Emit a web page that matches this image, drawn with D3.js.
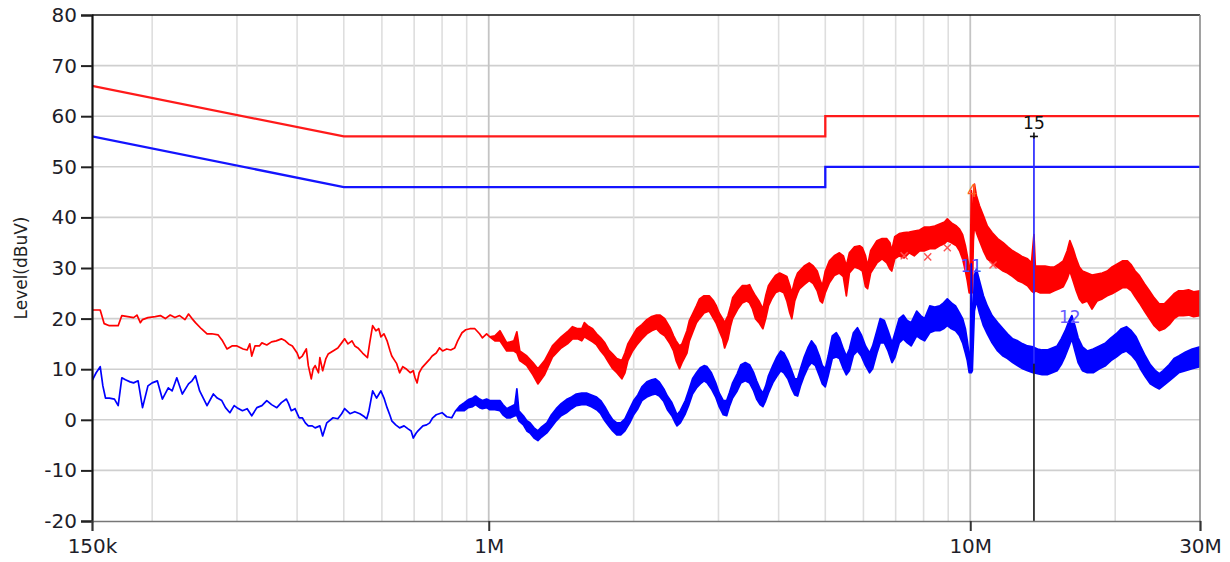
<!DOCTYPE html>
<html>
<head>
<meta charset="utf-8">
<script src="https://cdn.jsdelivr.net/npm/d3@7"></script>
<style>
  html, body { margin: 0; padding: 0; background: #fff; }
  svg { display: block; font-family: "DejaVu Sans", Verdana, sans-serif; }
</style>
</head>
<body>
<svg id="chart" width="1230" height="562"></svg>
<script>
// ---- Data (frequency in MHz, level in dBuV) ----
const levelTicks = [-20, -10, 0, 10, 20, 30, 40, 50, 60, 70, 80];
const freqTicks = [0.15, 1, 10, 30];
const freqTickLabels = ["150k", "1M", "10M", "30M"];
const gridFreqMinor = [0.2, 0.3, 0.4, 0.5, 0.6, 0.7, 0.8, 0.9, 2, 3, 4, 5, 6, 7, 8, 9, 20];
const gridFreqMajor = [1, 10];

// Limit lines: quasi-peak (red) and average (blue)
const qpLimit = [[0.15, 66], [0.5, 56], [5, 56], [5, 60], [30, 60]];
const avLimit = [[0.15, 56], [0.5, 46], [5, 46], [5, 50], [30, 50]];

// Peak trace, rows are [freq, upper, lower]; a missing lower value means a single reading
const peakTrace = [
  [0.150,21.7],[0.156,21.7],[0.159,19.0],[0.163,18.6],[0.170,18.6],[0.173,20.6],[0.178,20.4],[0.183,20.2],
  [0.186,20.7],[0.189,19.2],[0.191,19.8],[0.196,20.2],[0.203,20.4],[0.208,20.6],[0.213,20.0],[0.218,20.7],
  [0.223,20.2],[0.228,20.6],[0.234,19.8],[0.238,20.9],[0.242,20.0],[0.246,19.2],[0.253,18.0],[0.260,17.0],
  [0.266,17.0],[0.274,16.8],[0.280,15.6],[0.286,14.0],[0.293,14.6],[0.300,14.6],[0.309,14.0],[0.315,13.8],
  [0.319,15.0],[0.322,12.6],[0.327,14.6],[0.334,14.6],[0.338,15.2],[0.346,14.8],[0.354,15.4],[0.362,15.6],
  [0.371,16.0],[0.378,15.6],[0.384,15.0],[0.391,14.6],[0.400,13.2],[0.404,12.1],[0.410,12.6],[0.418,14.0],
  [0.422,10.7],[0.428,8.1],[0.432,10.1],[0.436,10.7],[0.443,9.3],[0.446,12.3],[0.452,9.7],[0.459,12.1],
  [0.464,13.0],[0.475,13.6],[0.486,14.2],[0.495,15.2],[0.502,16.0],[0.510,15.0],[0.520,15.6],[0.527,14.6],
  [0.535,14.2],[0.547,13.2],[0.560,12.3],[0.566,15.2],[0.574,18.6],[0.583,17.6],[0.591,18.0],[0.597,16.4],
  [0.606,17.0],[0.615,15.6],[0.624,13.6],[0.629,12.6],[0.638,11.7],[0.644,11.1],[0.653,9.3],[0.663,10.5],
  [0.673,10.1],[0.687,9.3],[0.697,9.7],[0.703,8.3],[0.710,7.3],[0.717,9.3],[0.727,10.3],[0.743,11.3],
  [0.756,12.1],[0.763,12.6],[0.778,13.2],[0.790,14.2],[0.802,13.6],[0.818,14.0],[0.834,13.8],[0.850,14.2],
  [0.862,15.6],[0.880,17.2],[0.896,17.8],[0.914,18.0],[0.936,18.0],[0.957,17.0],[0.970,16.2],[0.990,17.0],
  [1.005,16.4],[1.03,16.6,15.6],
  [1.055,17.6,15.6],[1.09,15.2,13.6],[1.128,15.6,13.6],[1.144,17.4,13.2],[1.16,13.6,11.7],[1.20,12.6,10.7],
  [1.235,11.3,8.9],[1.265,10.1,7.1],[1.306,11.7,8.9],[1.356,14.6,12.4],[1.414,16.4,14.2],[1.457,17.4,15.0],
  [1.493,18.4,16.0],[1.53,18.0,16.0],[1.56,18.0,15.6],[1.58,19.2,16.4],[1.604,18.6,16.0],[1.643,18.0,15.4],
  [1.675,17.0,14.8],[1.708,16.2,13.6],[1.742,15.2,12.6],[1.775,13.8,11.3],[1.809,13.0,10.1],[1.845,12.1,9.3],
  [1.89,11.7,8.1],[1.918,13.2,9.3],[1.945,15.0,11.7],[1.99,16.6,13.6],[2.03,18.0,14.8],[2.08,18.8,16.0],
  [2.13,19.8,17.0],[2.18,20.4,17.6],[2.23,20.7,18.0],[2.27,20.7,17.2],[2.32,20.0,16.6],[2.38,18.2,15.0],
  [2.42,16.6,13.6],[2.45,15.6,11.7],[2.49,14.6,10.1],[2.52,15.0,11.3],[2.58,17.6,13.2],[2.61,19.6,15.6],
  [2.65,20.9,17.2],[2.70,22.5,19.2],[2.74,23.9,20.0],[2.80,24.5,21.1],[2.87,24.5,21.5],[2.93,23.5,20.0],
  [2.97,22.5,19.0],[3.01,21.1,17.6],[3.06,20.0,16.0],[3.09,19.2,14.2],[3.14,20.6,16.0],[3.18,22.5,18.6],
  [3.21,24.1,20.0],[3.29,25.5,21.9],[3.36,26.5,23.1],[3.43,26.5,23.5],[3.48,26.7,23.1],[3.53,25.5,21.9],
  [3.58,24.5,20.0],[3.64,23.5,19.2],[3.71,21.9,18.0],[3.76,24.5,20.0],[3.81,26.5,22.5],[3.87,27.5,23.9],
  [3.94,28.5,25.1],[4.02,29.0,25.5],[4.10,28.6,25.1],[4.16,28.3,23.5],[4.22,26.5,21.1],[4.26,25.1,20.0],
  [4.32,27.5,23.5],[4.38,29.0,25.1],[4.42,29.4,25.9],[4.52,30.4,26.7],[4.63,31.0,27.5],[4.72,30.4,26.9],
  [4.81,29.4,25.5],[4.88,27.5,23.5],[4.93,26.5,23.1],[5.00,29.4,25.1],[5.10,31.4,27.1],[5.22,32.4,28.5],
  [5.35,33.0,29.0],[5.45,32.4,28.3],[5.53,30.4,24.5],[5.61,33.0,29.0],[5.75,34.2,30.2],[5.89,34.4,29.8],
  [5.97,34.0,29.4],[6.06,32.4,26.3],[6.12,30.4,25.9],[6.21,33.4,29.0],[6.40,35.4,31.0],[6.56,35.8,31.8],
  [6.71,35.8,31.0],[6.81,35.0,29.8],[6.87,33.4,29.4],[6.97,36.2,31.8],[7.12,36.8,32.4],[7.29,37.0,32.0],
  [7.47,37.1,33.0],[7.65,37.3,32.4],[7.85,37.5,33.4],[8.04,38.1,33.4],[8.24,38.1,33.8],[8.44,38.3,33.8],
  [8.64,38.7,34.4],[8.84,39.1,34.8],[8.96,39.7,35.4],[9.14,38.9,35.0],[9.36,38.3,34.4],[9.5,37.7,33.4],
  [9.64,36.6,31.8],[9.77,34.4,29.4],[9.86,32.4,27.5],[9.95,29.8,25.1],[10.0,28.5,25.1],[10.05,45.3,25.5],
  [10.1,33.4,25.1],[10.15,44.3,35.4],[10.2,46.6,38.3],[10.3,44.3,37.0],[10.45,42.3,35.4],[10.65,40.3,33.4],
  [10.85,38.3,31.8],[11.1,37.0,31.0],[11.4,35.8,30.2],[11.7,35.0,29.4],[11.95,34.2,29.0],[12.25,33.4,28.3],
  [12.55,32.8,27.5],[12.85,32.2,27.1],[13.15,31.8,26.5],[13.4,31.0,25.5],[13.56,36.6,25.1],[13.65,30.4,25.5],
  [13.95,30.4,25.1],[14.3,30.4,25.1],[14.65,30.2,25.1],[14.95,30.2,25.5],[15.3,30.8,25.9],[15.6,31.4,26.3],
  [15.9,33.4,27.9],[16.1,35.4,29.4],[16.35,33.8,27.5],[16.6,31.8,25.5],[16.85,30.2,23.9],[17.1,29.4,23.1],
  [17.5,29.0,23.5],[17.9,28.6,21.9],[18.35,28.8,23.5],[18.8,29.0,23.9],[19.25,29.4,24.5],[19.7,30.2,24.9],
  [20.2,30.8,25.5],[20.7,31.4,26.1],[21.2,31.4,26.1],[21.6,30.6,25.5],[22.0,29.4,24.3],[22.45,28.5,23.1],
  [23.0,26.9,21.5],[23.55,25.5,20.0],[24.1,24.1,18.6],[24.7,22.9,17.6],[25.3,22.9,18.0],[25.9,23.9,18.8],
  [26.5,24.9,20.0],[27.1,25.5,20.6],[27.7,25.5,20.6],[28.4,25.7,20.7],[29.1,25.3,20.4],[30.0,25.5,20.6]
];

// Average trace, same row layout
const avgTrace = [
  [0.150,7.7],[0.153,9.3],[0.156,10.5],[0.158,6.7],[0.160,4.3],[0.163,4.3],[0.167,4.1],[0.170,2.8],
  [0.173,8.3],[0.176,7.9],[0.180,7.5],[0.183,7.3],[0.187,7.7],[0.191,2.4],[0.196,6.7],[0.200,7.3],
  [0.205,7.7],[0.210,4.1],[0.216,6.3],[0.220,5.7],[0.225,8.3],[0.231,5.1],[0.238,7.1],[0.242,7.7],
  [0.246,8.7],[0.251,5.7],[0.256,4.1],[0.260,2.8],[0.268,5.1],[0.273,4.3],[0.279,3.8],[0.284,2.4],
  [0.290,1.4],[0.296,2.8],[0.300,2.4],[0.308,1.8],[0.315,2.2],[0.322,0.8],[0.330,2.4],[0.338,2.8],
  [0.346,3.8],[0.354,3.0],[0.363,2.4],[0.371,3.4],[0.380,4.1],[0.384,3.2],[0.389,1.8],[0.396,2.2],
  [0.404,0.4],[0.410,0.4],[0.416,-0.6],[0.422,-1.2],[0.430,-1.2],[0.436,-1.6],[0.446,-1.2],[0.452,-3.2],
  [0.461,-0.6],[0.475,0.4],[0.486,0.2],[0.495,1.2],[0.502,2.2],[0.515,1.2],[0.527,1.6],[0.540,1.2],
  [0.552,0.6],[0.558,0.2],[0.564,1.8],[0.574,5.7],[0.585,4.3],[0.597,5.7],[0.606,4.3],[0.615,2.4],
  [0.624,0.8],[0.629,-0.2],[0.641,-1.0],[0.653,-1.6],[0.667,-1.2],[0.680,-1.8],[0.690,-2.2],[0.697,-3.6],
  [0.707,-2.6],[0.713,-2.2],[0.730,-1.2],[0.743,-1.0],[0.754,-0.6],[0.765,0.4],[0.778,1.0],[0.800,1.4],
  [0.818,0.6],[0.838,0.4],[0.854,1.8],
  [0.872,2.8,1.8],[0.890,3.4,1.8],[0.907,4.0,2.4],[0.926,4.3,2.6],[0.939,4.7,3.0],[0.957,4.1,2.4],
  [0.970,3.8,2.2],[0.990,4.1,2.4],[1.005,3.8,2.0],[1.03,3.8,2.0],[1.055,3.8,1.8],[1.07,3.0,1.0],
  [1.09,2.2,0.4],[1.11,2.6,0.4],[1.133,3.0,0.8],[1.144,6.1,0.8],[1.155,1.8,-0.2],[1.18,0.8,-1.0],
  [1.20,-0.2,-2.2],[1.218,-0.6,-2.6],[1.242,-1.6,-3.6],[1.265,-2.2,-4.1],[1.288,-1.4,-3.4],[1.32,-0.6,-2.6],
  [1.35,1.0,-1.4],[1.381,2.2,-0.2],[1.414,3.2,0.8],[1.45,4.0,1.4],[1.486,4.5,2.2],[1.52,5.1,2.8],
  [1.56,5.3,3.0],[1.596,5.3,3.0],[1.634,4.9,2.6],[1.675,4.5,2.0],[1.708,3.8,1.2],[1.742,2.6,-0.2],
  [1.775,1.2,-1.2],[1.809,0.0,-2.2],[1.845,-0.6,-3.0],[1.88,-0.6,-3.0],[1.918,0.2,-2.2],[1.963,2.2,-0.6],
  [2.00,3.8,1.0],[2.04,4.9,2.2],[2.08,6.5,3.8],[2.13,7.5,4.5],[2.18,7.9,4.9],[2.22,8.1,5.1],
  [2.26,7.5,4.7],[2.31,6.1,3.6],[2.35,4.7,2.0],[2.40,3.4,0.8],[2.44,1.8,-0.6],[2.46,1.0,-1.2],
  [2.50,1.8,-0.6],[2.56,3.8,1.2],[2.60,5.7,2.8],[2.65,8.1,5.1],[2.70,9.3,6.3],[2.75,10.3,7.1],
  [2.80,10.7,7.7],[2.84,10.5,7.3],[2.90,9.3,6.1],[2.96,7.3,4.5],[3.01,5.3,2.6],[3.07,3.8,1.0],
  [3.12,3.8,0.8],[3.16,5.3,2.6],[3.21,7.3,4.3],[3.28,9.1,5.7],[3.34,10.9,7.3],[3.41,11.3,7.7],
  [3.48,10.9,7.3],[3.55,9.3,5.7],[3.60,7.7,4.1],[3.66,6.1,3.0],[3.71,5.3,2.6],[3.76,6.7,3.8],
  [3.81,8.7,5.3],[3.89,10.7,7.3],[3.96,12.3,8.5],[4.04,13.6,9.7],[4.10,13.2,9.3],[4.18,11.7,8.1],
  [4.26,9.7,6.1],[4.32,8.1,4.9],[4.38,8.1,4.7],[4.44,10.1,6.7],[4.52,12.4,8.7],[4.61,14.4,10.5],
  [4.68,15.6,11.3],[4.77,14.6,10.7],[4.86,12.6,8.7],[4.93,10.7,7.1],[5.00,10.1,6.5],[5.07,12.6,8.7],
  [5.17,16.6,12.1],[5.27,17.2,12.4],[5.35,16.2,12.1],[5.45,14.0,10.1],[5.53,12.6,8.9],[5.61,14.0,9.7],
  [5.72,17.2,12.8],[5.83,18.2,13.6],[5.94,16.8,12.6],[6.06,14.6,10.7],[6.18,13.2,9.3],[6.27,14.6,10.1],
  [6.40,17.6,13.2],[6.50,20.0,15.2],[6.63,19.6,15.2],[6.75,17.6,13.6],[6.88,15.2,11.3],[6.98,17.2,12.4],
  [7.12,20.0,15.2],[7.26,20.7,16.0],[7.40,19.6,15.2],[7.54,19.2,14.6],[7.74,21.5,16.6],[7.89,20.6,16.0],
  [8.04,20.0,15.6],[8.24,22.5,17.2],[8.44,22.3,17.6],[8.64,22.5,17.6],[8.80,23.1,18.0],[8.96,23.9,18.6],
  [9.14,23.1,18.0],[9.32,22.5,17.6],[9.5,21.1,16.6],[9.64,20.0,15.2],[9.77,18.0,13.2],[9.86,15.6,11.7],
  [9.95,12.6,9.3],[10.0,11.3,9.3],[10.05,30.8,9.3],[10.1,15.6,9.7],[10.2,28.5,21.5],[10.3,29.8,23.5],
  [10.45,27.5,21.1],[10.65,24.5,18.6],[10.85,22.5,17.0],[11.1,20.6,15.2],[11.4,19.2,13.6],[11.7,18.0,12.6],
  [11.95,17.0,12.1],[12.25,16.0,11.3],[12.55,15.6,10.7],[12.85,15.0,10.1],[13.15,14.6,9.7],[13.5,14.4,9.3],
  [13.8,14.0,9.1],[14.1,13.8,8.9],[14.45,13.8,8.9],[14.8,14.2,9.3],[15.15,14.6,9.7],[15.45,16.0,10.9],
  [15.75,17.6,12.6],[16.05,19.6,14.6],[16.25,20.6,16.0],[16.5,18.6,13.6],[16.75,16.2,11.3],[17.1,14.4,9.7],
  [17.5,13.6,9.3],[18.0,14.0,9.3],[18.55,14.6,10.1],[19.1,15.2,10.7],[19.6,16.2,11.7],[20.1,17.0,12.4],
  [20.6,18.0,13.2],[21.1,18.4,13.6],[21.6,17.6,12.8],[22.1,16.4,11.7],[22.55,14.6,10.1],[23.1,12.6,8.5],
  [23.65,10.9,7.1],[24.25,9.7,6.5],[24.7,9.1,6.1],[25.15,9.7,6.7],[25.9,10.9,7.7],[26.5,12.1,8.5],
  [27.1,12.6,9.3],[28.0,13.4,9.7],[28.9,14.0,10.1],[30.0,14.4,10.5]
];

// Quasi-peak readings shown as crosses
const qpReadings = [[7.29, 32.4], [8.16, 32.2], [8.96, 34.0], [11.15, 30.6]];

// Numbered markers
const markerFreq = [10.1, 10.05, 16.1, 13.56];
const markerLevel = [45.3, 30.4, 20.4, 58.6];
const markerLabels = ["4", "11", "12", "15"];
const markerColors = ["#ff5a1e", "#4a4aff", "#6a5cff", "#111111"];

// Marker 15 cursor line: top level, trace level
const cursorFreq = 13.56;
const cursorTop = 56;
const cursorTrace = 11.1;

// ---- Layout ----
const W = 1230, H = 562;
const margin = { top: 15, right: 30, bottom: 41, left: 92 };

const svg = d3.select("#chart");

const x = d3.scaleLog().domain([0.15, 30]).range([margin.left, W - margin.right]);
const y = d3.scaleLinear().domain([-20, 80]).range([H - margin.bottom, margin.top]);

const x0 = x.range()[0], x1 = x.range()[1];
const yTop = y.range()[1], yBot = y.range()[0];

svg.append("defs").append("clipPath").attr("id", "plot-clip")
  .append("rect").attr("x", x0).attr("y", yTop).attr("width", x1 - x0).attr("height", yBot - yTop);

// Grid
const grid = svg.append("g");
grid.selectAll("line.h").data(levelTicks.slice(1, -1)).enter().append("line")
  .attr("x1", x0).attr("x2", x1)
  .attr("y1", d => y(d)).attr("y2", d => y(d))
  .attr("stroke", "#cfcfcf").attr("stroke-width", 1.6);
grid.selectAll("line.vm").data(gridFreqMinor).enter().append("line")
  .attr("x1", d => x(d)).attr("x2", d => x(d))
  .attr("y1", yTop).attr("y2", yBot)
  .attr("stroke", "#dedede").attr("stroke-width", 1.6);
grid.selectAll("line.vM").data(gridFreqMajor).enter().append("line")
  .attr("x1", d => x(d)).attr("x2", d => x(d))
  .attr("y1", yTop).attr("y2", yBot)
  .attr("stroke", "#c4c4c4").attr("stroke-width", 1.8);

const plot = svg.append("g").attr("clip-path", "url(#plot-clip)");

// Limit lines
const line = d3.line().x(d => x(d[0])).y(d => y(d[1]));
plot.append("path").datum(qpLimit).attr("d", line)
  .attr("fill", "none").attr("stroke", "#ff1a1a").attr("stroke-width", 2.3);
plot.append("path").datum(avLimit).attr("d", line)
  .attr("fill", "none").attr("stroke", "#1414ff").attr("stroke-width", 2.3);

// Measured traces drawn as an envelope band between upper and lower readings
const band = d3.area()
  .x(d => x(d[0]))
  .y1(d => y(d[1]))
  .y0(d => y(d.length > 2 ? d[2] : d[1]));

plot.append("path").datum(peakTrace).attr("d", band)
  .attr("fill", "#ff0000").attr("stroke", "#ff0000").attr("stroke-width", 1.7)
  .attr("stroke-linejoin", "round");
plot.append("path").datum(avgTrace).attr("d", band)
  .attr("fill", "#0000ff").attr("stroke", "#0000ff").attr("stroke-width", 1.7)
  .attr("stroke-linejoin", "round");

// Quasi-peak crosses
plot.selectAll("path.qp").data(qpReadings).enter().append("path")
  .attr("d", d3.symbol(d3.symbolTimes, 34))
  .attr("transform", d => `translate(${x(d[0])},${y(d[1])})`)
  .attr("fill", "none").attr("stroke", "#ff5050").attr("stroke-width", 1.4);

// Cursor line for marker 15
const cx = x(cursorFreq);
plot.append("line")
  .attr("x1", cx).attr("x2", cx)
  .attr("y1", y(cursorTop)).attr("y2", y(cursorTrace))
  .attr("stroke", "#2a2aff").attr("stroke-width", 1.7);
plot.append("line")
  .attr("x1", cx).attr("x2", cx)
  .attr("y1", y(cursorTrace)).attr("y2", yBot)
  .attr("stroke", "#222").attr("stroke-width", 1.7);
const plus = svg.append("g").attr("stroke", "#111").attr("stroke-width", 1.6);
plus.append("line").attr("x1", cx - 4).attr("x2", cx + 4).attr("y1", y(cursorTop)).attr("y2", y(cursorTop));
plus.append("line").attr("x1", cx).attr("x2", cx).attr("y1", y(cursorTop) - 4).attr("y2", y(cursorTop) + 2);

// Marker labels
svg.append("g").selectAll("text").data(markerLabels).enter().append("text")
  .attr("x", (d, i) => x(markerFreq[i]))
  .attr("y", (d, i) => y(markerLevel[i]))
  .attr("dy", "0.35em")
  .attr("text-anchor", "middle")
  .attr("font-size", 17)
  .attr("fill", (d, i) => markerColors[i])
  .text(d => d);

// Frame
svg.append("line").attr("x1", x0).attr("x2", x1).attr("y1", yTop).attr("y2", yTop)
  .attr("stroke", "#111").attr("stroke-width", 1.6);
svg.append("line").attr("x1", x1).attr("x2", x1).attr("y1", yTop).attr("y2", yBot)
  .attr("stroke", "#8a8a8a").attr("stroke-width", 1.6);

// Axes
const yAxis = d3.axisLeft(y).tickValues(levelTicks).tickFormat(d => String(d))
  .tickSizeOuter(0).tickSize(11).tickPadding(4);
const gy = svg.append("g").attr("transform", `translate(${x0},0)`).call(yAxis);
gy.select(".domain").attr("stroke", "#111").attr("stroke-width", 2.2);
gy.selectAll(".tick line").attr("stroke", "#222").attr("stroke-width", 2);
gy.selectAll(".tick text").attr("font-size", 20).attr("fill", "#1e1e2a")
  .attr("font-family", "'DejaVu Sans', Verdana, sans-serif");

const xAxis = d3.axisBottom(x).tickValues(freqTicks)
  .tickFormat((d, i) => freqTickLabels[i]).tickSizeOuter(0).tickSize(10).tickPadding(8);
const gx = svg.append("g").attr("transform", `translate(0,${yBot})`).call(xAxis);
gx.select(".domain").attr("stroke", "#777").attr("stroke-width", 1.6);
gx.selectAll(".tick line").attr("stroke", "#333").attr("stroke-width", 2);
gx.selectAll(".tick text").attr("font-size", 20).attr("fill", "#1e1e2a")
  .attr("font-family", "'DejaVu Sans', Verdana, sans-serif");

// Y axis title
svg.append("text")
  .attr("transform", `translate(27,${(yTop + yBot) / 2}) rotate(-90)`)
  .attr("text-anchor", "middle")
  .attr("font-size", 17)
  .attr("fill", "#222")
  .text("Level(dBuV)");
</script>
</body>
</html>
